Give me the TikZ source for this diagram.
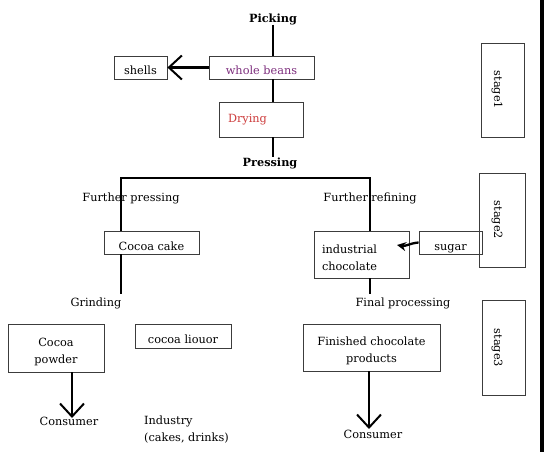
\documentclass[tikz,border=0pt]{standalone}
\usepackage{fontspec}
\setmainfont{DejaVu Serif}
\usetikzlibrary{arrows.meta}
\definecolor{beancol}{RGB}{125,45,125}
\definecolor{drycol}{RGB}{205,60,60}
\definecolor{boxcol}{RGB}{60,60,60}
\newcommand\tallstrut{\rule{0pt}{16pt}}
\tikzset{
  box/.style={draw=boxcol,line width=0.8pt,inner sep=0pt,align=center,font=\fontsize{11.3}{17}\selectfont},
  one/.style={text height=16pt,text depth=1pt},
  lbl/.style={inner sep=0pt,align=left,font=\fontsize{11.3}{17}\selectfont},
  blbl/.style={inner sep=0pt,font=\bfseries\fontsize{11.3}{14}\selectfont},
  conn/.style={line width=2.3pt,black},
  varrow/.style={conn,-{Straight Barb[length=13pt,width=24pt,line width=2pt]}},
  farrow/.style={conn,-{Stealth[length=9pt,width=9pt]}},
}
\begin{document}
\begin{tikzpicture}[x=1pt,y=-1pt]
\useasboundingbox (0,0) rectangle (544,452);
\fill[white] (0,0) rectangle (544,452);
\fill[black] (540,0) rectangle (544,452);
% stage boxes
\node[box,minimum width=43pt,minimum height=94pt] (st1) at (502.5,90) {};
\node[lbl,rotate=-90] (st1t) at (497,90) {stage1};
\node[box,minimum width=46pt,minimum height=94pt] (st2) at (502,220) {};
\node[lbl,rotate=-90] (st2t) at (497,220) {stage2};
\node[box,minimum width=43pt,minimum height=95pt] (st3) at (503.5,348) {};
\node[lbl,rotate=-90] (st3t) at (497,348) {stage3};
% top chain
\node[blbl] (pick) at (273,19) {Picking};
\node[box,one,minimum width=105pt,minimum height=23pt,text=beancol] (wb) at (261.5,67.5) {whole beans};
\node[box,one,minimum width=53pt,minimum height=23pt] (shells) at (140.5,67.5) {shells};
\node[box,minimum width=84pt,minimum height=35pt,text=drycol,align=left,text width=66pt,inner xsep=9pt,inner ysep=0pt] (dry) at (261,119.5) {Drying\\[-4pt]};
\node[blbl] (press) at (270,163) {Pressing};
\draw[conn] (pick.south) -- (pick.south |- wb.north);
\draw[conn] (wb.south -| pick) -- (dry.north -| pick);
\draw[conn] (dry.south -| pick) -- (press.north -| pick);
\draw[varrow] (wb.west) -- (shells.east);
% split
\coordinate (bl) at (121,178);
\coordinate (br) at (370,178);
\node[box,one,minimum width=95pt,minimum height=23pt] (cake) at (151.5,242.5) {Cocoa cake};
\node[box,minimum width=95pt,minimum height=47pt,align=left,text width=79pt,inner xsep=8pt,inner ysep=0pt] (ind) at (361.5,254.5) {\tallstrut industrial\\chocolate};
\node[box,one,minimum width=63pt,minimum height=23pt] (sugar) at (450.5,242.5) {sugar};
\coordinate (sugtip) at (397,245);
\draw[conn] (cake.north -| bl) -- (bl) -- (br) -- (br |- ind.north);
\node[lbl] (fpress) at (131,198) {Further pressing};
\node[lbl] (fref) at (370,198) {Further refining};
\draw[farrow] (sugar.west) to[out=185,in=-10] (sugtip);
% left lower
\coordinate (grindtop) at (121,294);
\draw[conn] (cake.south -| bl) -- (grindtop);
\node[lbl] (grind) at (96,303) {Grinding};
\node[box,minimum width=96pt,minimum height=48pt] (powder) at (56,348) {\tallstrut Cocoa\\powder};
\node[box,one,minimum width=96pt,minimum height=24pt] (liq) at (183,336) {cocoa liouor};
\node[lbl] (cons1) at (69,421) {Consumer};
\coordinate (c1tip) at (72,418);
\draw[varrow] (powder.south -| c1tip) -- (c1tip);
\node[lbl,anchor=north west] (indus) at (144,416) {Industry\\(cakes, drinks)};
% right lower
\coordinate (fptop) at (370,294);
\draw[conn] (ind.south -| br) -- (fptop);
\node[lbl] (fproc) at (403,303) {Final processing};
\node[box,minimum width=137pt,minimum height=47pt] (fin) at (371.5,347.5) {\tallstrut Finished chocolate\\products};
\node[lbl] (cons2) at (373,434) {Consumer};
\coordinate (c2tip) at (369,429);
\draw[varrow] (fin.south -| c2tip) -- (c2tip);
\end{tikzpicture}
\end{document}
